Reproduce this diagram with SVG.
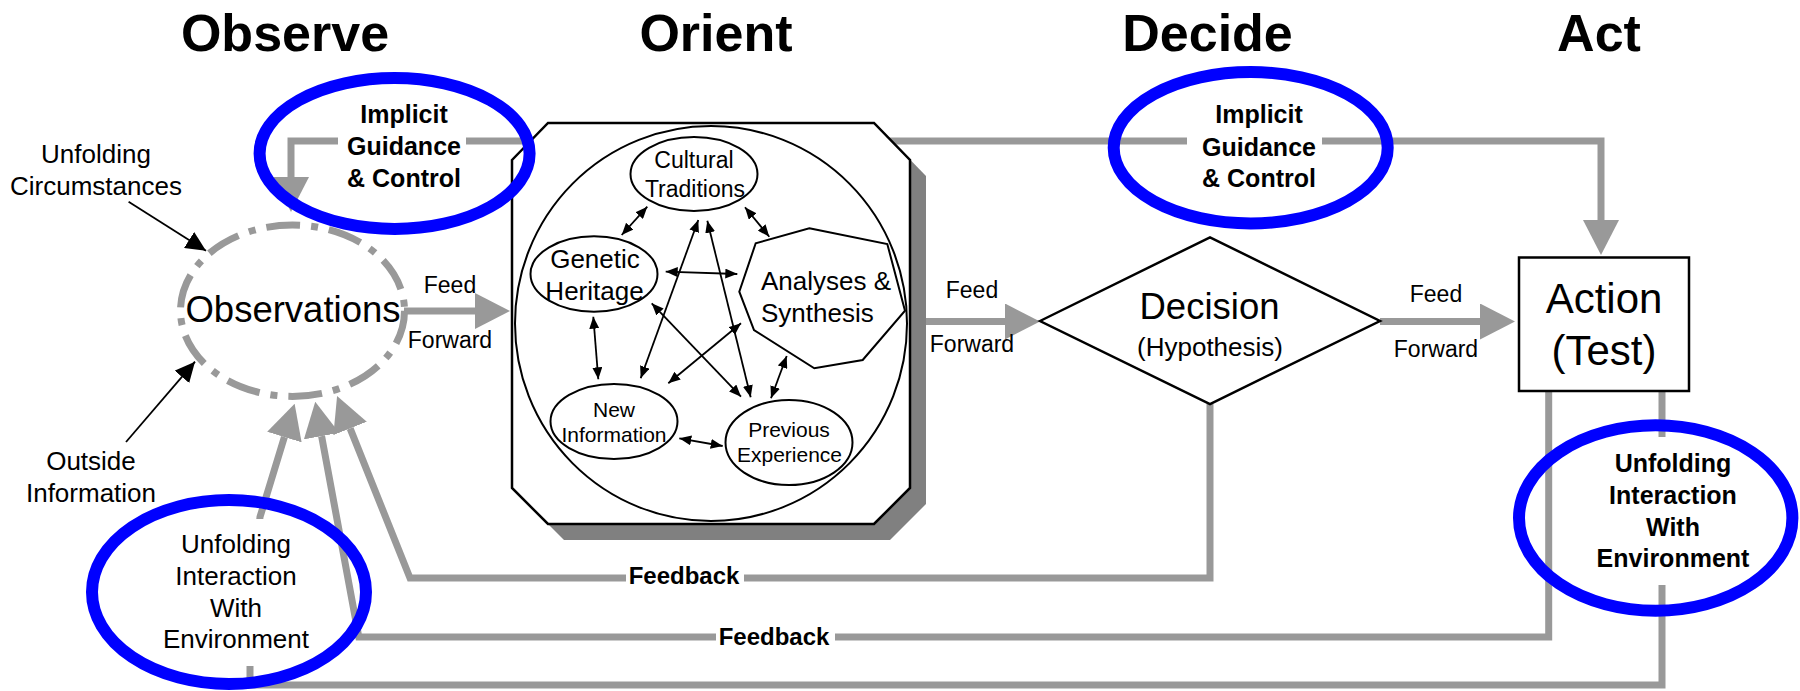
<svg xmlns="http://www.w3.org/2000/svg" width="1800" height="691" viewBox="0 0 1800 691">
<style>
.g{fill:none;stroke:#999999;stroke-width:7}
.t{font-family:"Liberation Sans",Arial,sans-serif;text-anchor:middle;fill:#000}
.b{font-weight:bold}
.blue{fill:none;stroke:#0000FF;stroke-width:12}
.k{fill:none;stroke:#000;stroke-width:2}
.ka{fill:none;stroke:#000;stroke-width:1.8}
.bg{fill:#fff;stroke:none}
</style>
<defs>
<marker id="ga" markerUnits="userSpaceOnUse" viewBox="0 0 35 36" markerWidth="35" markerHeight="36" refX="0" refY="18" orient="auto"><path d="M0,0 L35,18 L0,36 z" fill="#999999"/></marker>
<marker id="bs" markerUnits="userSpaceOnUse" viewBox="0 0 12 10" markerWidth="12" markerHeight="10" refX="12" refY="5" orient="auto-start-reverse"><path d="M0,0 L12,5 L0,10 z" fill="#000"/></marker>
<marker id="bl" markerUnits="userSpaceOnUse" viewBox="0 0 20 19" markerWidth="20" markerHeight="19" refX="20" refY="9.5" orient="auto"><path d="M0,0 L20,9.5 L0,19 z" fill="#000"/></marker>
</defs>
<rect width="1800" height="691" fill="#fff"/>

<g id="headers" class="t b" font-size="52">
<text x="285" y="51">Observe</text>
<text x="716" y="51">Orient</text>
<text x="1207.5" y="51">Decide</text>
<text x="1599" y="51">Act</text>
</g>

<g id="connectors">
<path class="g" d="M540,141 H291 V177" marker-end="url(#ga)"/>
<path class="g" d="M880,141 H1601 V220" marker-end="url(#ga)"/>
<path class="g" d="M404,311 H475" marker-end="url(#ga)"/>
<path class="g" d="M926,321.5 H1005" marker-end="url(#ga)"/>
<path class="g" d="M1380,321.5 H1480" marker-end="url(#ga)"/>
<path class="g" d="M1210,404 V578 H410 L350.1,428.4" marker-end="url(#ga)"/>
<path class="g" d="M1548.7,391 V637 H358.8 L321.6,436.1" marker-end="url(#ga)"/>
<path class="g" d="M1662,391 V685 H250 V620 L260,517 L284.4,437.1" marker-end="url(#ga)"/>
<line class="ka" x1="128.6" y1="201.7" x2="206" y2="250.7" marker-end="url(#bl)"/>
<line class="ka" x1="126" y1="442" x2="195" y2="361.7" marker-end="url(#bl)"/>
<rect class="bg" x="338" y="100" width="128" height="95"/>
<rect class="bg" x="1187" y="100" width="135" height="95"/>
<rect class="bg" x="626" y="565" width="118" height="25"/>
<rect class="bg" x="716" y="625" width="119" height="25"/>
<rect class="bg" x="1590" y="437" width="170" height="148"/>
<rect class="bg" x="150" y="519" width="168" height="147"/>
<g class="t b" font-size="24">
<text x="684" y="584">Feedback</text>
<text x="774" y="645">Feedback</text>
</g>
<g class="t" font-size="23">
<text x="450" y="293">Feed</text>
<text x="450" y="348">Forward</text>
<text x="972" y="298">Feed</text>
<text x="972" y="352">Forward</text>
<text x="1436" y="302">Feed</text>
<text x="1436" y="357">Forward</text>
</g>
</g>

<g id="observations">
<ellipse cx="292.5" cy="310.7" rx="112" ry="85.7" fill="none" stroke="#999999" stroke-width="7" stroke-dasharray="34 11 7 11"/>
<text class="t" x="293" y="322" font-size="36.5">Observations</text>
</g>

<g id="unfolding-circumstances" class="t" font-size="26">
<text x="96" y="163">Unfolding</text>
<text x="96" y="195">Circumstances</text>
</g>

<g id="outside-information" class="t" font-size="26">
<text x="91" y="470">Outside</text>
<text x="91" y="502">Information</text>
</g>

<g id="orient">
<polygon points="528,176 564,139 890,139 926,176 926,504 890,540 564,540 528,504" fill="#808080"/>
<polygon points="512,160 548,123 874,123 910,160 910,488 874,524 548,524 512,488" fill="#fff" stroke="#000" stroke-width="2.5"/>
<ellipse class="k" cx="711" cy="323.5" rx="196" ry="197.5"/>
<g id="cultural-traditions">
<ellipse class="k" cx="694" cy="174" rx="63.5" ry="37"/>
<text class="t" x="694" y="168" font-size="23">Cultural</text>
<text class="t" x="695" y="197" font-size="23">Traditions</text>
</g>
<g id="genetic-heritage">
<ellipse class="k" cx="594" cy="274" rx="63.5" ry="37.7"/>
<text class="t" x="595" y="268" font-size="26">Genetic</text>
<text class="t" x="594.5" y="300" font-size="26">Heritage</text>
</g>
<g id="analyses-synthesis">
<polygon class="k" points="809.3,228.3 887.3,244 905,310.7 862.7,360 814.3,368.3 754,330 739.3,291.7 755.7,243.3"/>
<text class="t" x="761" y="290" font-size="26" style="text-anchor:start">Analyses &amp;</text>
<text class="t" x="761" y="321.7" font-size="26" style="text-anchor:start">Synthesis</text>
</g>
<g id="new-information">
<ellipse class="k" cx="614" cy="421.5" rx="63.5" ry="37.5"/>
<text class="t" x="614" y="416.7" font-size="21">New</text>
<text class="t" x="614" y="441.7" font-size="21">Information</text>
</g>
<g id="previous-experience">
<ellipse class="k" cx="789" cy="442.5" rx="63.5" ry="42.5"/>
<text class="t" x="789" y="437" font-size="21">Previous</text>
<text class="t" x="789.5" y="462" font-size="21">Experience</text>
</g>
<g id="orient-links">
<line class="ka" x1="647.3" y1="206.7" x2="621.7" y2="235" marker-start="url(#bs)" marker-end="url(#bs)"/>
<line class="ka" x1="745" y1="207.3" x2="769.3" y2="236.7" marker-start="url(#bs)" marker-end="url(#bs)"/>
<line class="ka" x1="665.7" y1="271.7" x2="737.3" y2="274" marker-start="url(#bs)" marker-end="url(#bs)"/>
<line class="ka" x1="593.3" y1="316.7" x2="598.3" y2="379.3" marker-start="url(#bs)" marker-end="url(#bs)"/>
<line class="ka" x1="786.7" y1="356" x2="771" y2="398.3" marker-start="url(#bs)" marker-end="url(#bs)"/>
<line class="ka" x1="679.3" y1="438.3" x2="722.7" y2="446" marker-start="url(#bs)" marker-end="url(#bs)"/>
<line class="ka" x1="698.3" y1="220" x2="640.7" y2="378.3" marker-start="url(#bs)" marker-end="url(#bs)"/>
<line class="ka" x1="707.3" y1="220.7" x2="750.7" y2="397.3" marker-start="url(#bs)" marker-end="url(#bs)"/>
<line class="ka" x1="651.7" y1="303.3" x2="741" y2="396.7" marker-start="url(#bs)" marker-end="url(#bs)"/>
<line class="ka" x1="741" y1="323.3" x2="668.3" y2="383.3" marker-start="url(#bs)" marker-end="url(#bs)"/>
</g>
</g>

<g id="decision">
<polygon points="1040,321 1210,237.3 1380,321 1210,404" fill="#fff" stroke="#000" stroke-width="2.5"/>
<text class="t" x="1209.5" y="319" font-size="36.5">Decision</text>
<text class="t" x="1210" y="356" font-size="26">(Hypothesis)</text>
</g>

<g id="action">
<rect x="1519" y="257.5" width="170" height="133.5" fill="#fff" stroke="#000" stroke-width="2.5"/>
<text class="t" x="1604" y="313" font-size="42">Action</text>
<text class="t" x="1604" y="365" font-size="42">(Test)</text>
</g>

<g id="guidance-left">
<ellipse class="blue" cx="394.6" cy="153.5" rx="135" ry="75.5"/>
<g class="t b" font-size="25">
<text x="404" y="123">Implicit</text>
<text x="404" y="155">Guidance</text>
<text x="404" y="187">&amp; Control</text>
</g>
</g>

<g id="guidance-right">
<ellipse class="blue" cx="1250.7" cy="147.7" rx="137" ry="75.7"/>
<g class="t b" font-size="25">
<text x="1259" y="123">Implicit</text>
<text x="1259" y="156">Guidance</text>
<text x="1259" y="187">&amp; Control</text>
</g>
</g>

<g id="interaction-left">
<ellipse class="blue" cx="229" cy="592" rx="137" ry="92"/>
<g class="t" font-size="26">
<text x="236" y="553">Unfolding</text>
<text x="236" y="585">Interaction</text>
<text x="236" y="617">With</text>
<text x="236" y="648">Environment</text>
</g>
</g>

<g id="interaction-right">
<ellipse class="blue" cx="1655.7" cy="518" rx="136.7" ry="92.7"/>
<g class="t b" font-size="25">
<text x="1673" y="472">Unfolding</text>
<text x="1673" y="504">Interaction</text>
<text x="1673" y="536">With</text>
<text x="1673" y="567">Environment</text>
</g>
</g>
</svg>
